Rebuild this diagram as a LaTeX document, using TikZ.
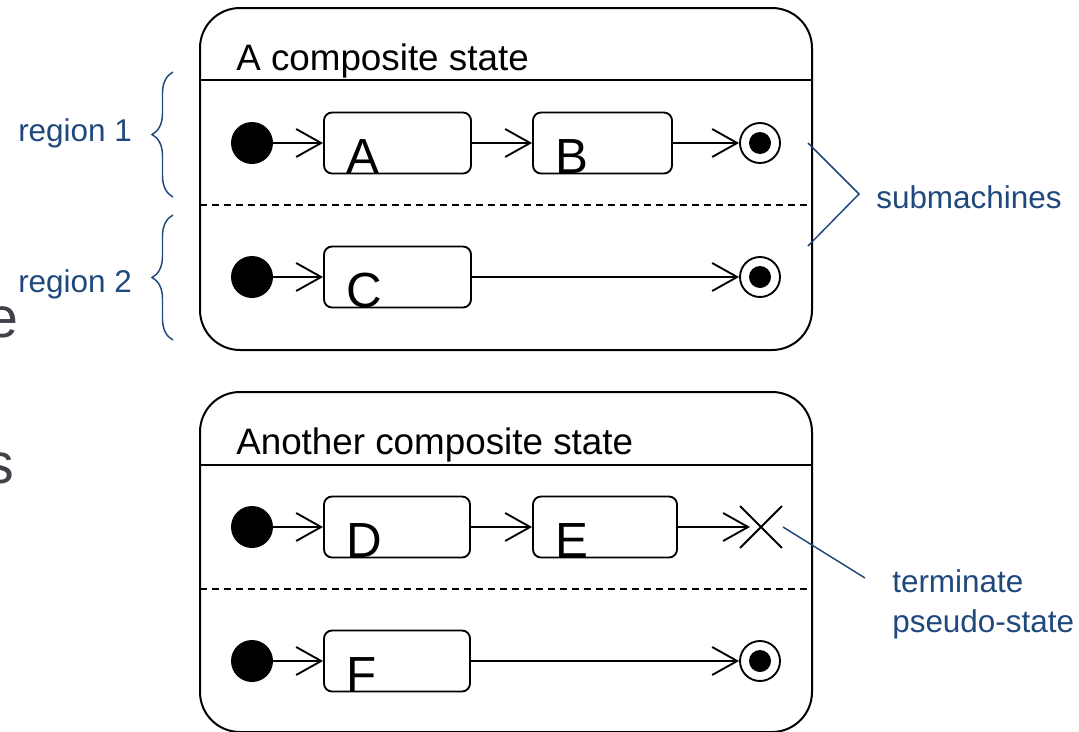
\documentclass[tikz,border=0pt]{standalone}
\usepackage{fontspec}
\setmainfont{Liberation Sans}
\usetikzlibrary{arrows.meta,shapes.misc,decorations.pathreplacing}
\definecolor{note}{RGB}{31,73,125}
\definecolor{slidegray}{RGB}{64,64,72}
\begin{document}
\begin{tikzpicture}[x=0.75pt,y=-0.75pt,
  comp/.style={draw,line width=1.5pt,rounded corners=30pt,inner sep=0,minimum width=459pt},
  st/.style={draw,line width=1.4pt,rounded corners=6pt,inner sep=0,minimum height=45.75pt},
  init/.style={circle,fill,inner sep=0,minimum size=31.5pt},
  fin/.style={circle,draw,line width=1.4pt,inner sep=0,minimum size=30pt},
  tr/.style={-{Straight Barb[length=18.75pt,width=21pt]},line width=1.4pt},
  sep/.style={line width=1.4pt,dash pattern=on 5.25pt off 3.75pt},
  title/.style={font=\fontsize{27.6}{27.6}\selectfont,anchor=base west,inner sep=0},
  letter/.style={font=\fontsize{37}{37}\selectfont,anchor=base west,inner sep=0},
  lbl/.style={font=\fontsize{23.6}{23.6}\selectfont,text=note,anchor=base west,inner sep=0},
  bluel/.style={draw=note,line width=1.1pt},
  brc/.style={draw=note,line width=1.1pt,decorate,decoration={brace,amplitude=15.75pt}},
  slide/.style={font=\fontsize{43}{43}\selectfont,text=slidegray,anchor=base east,inner sep=0}
]
\useasboundingbox (0,0) rectangle (1079,732);

% slide remnants (cut at the left edge, as in the reference)
\node[slide] (se) at (19,337) {e};
\node[slide] (ss) at (14,483) {s};

% ---------- top composite ----------
\node[comp,minimum height=256.5pt] (cs1) at (506,179) {};
\node[title] (t1) at (236,70) {A composite state};
\coordinate (h1l) at (200,80);
\coordinate (h1r) at (812,80);
\draw[line width=1.5pt] (h1l) -- (h1r);
\coordinate (d1l) at (200,205);
\coordinate (d1r) at (812,205);
\draw[sep] (d1l) -- (d1r);

\node[init] (i1) at (252,143) {};
\node[st,minimum width=110.25pt] (A) at (397.5,143) {};
\node[st,minimum width=104.25pt] (B) at (602.5,143) {};
\node[fin] (f1) at (760,143) {};
\fill (f1.center) circle[radius=8.25pt];
\node[letter] (Al) at ([xshift=17pt,yshift=0.75pt]A.south west) {A};
\node[letter] (Bl) at ([xshift=17pt,yshift=0.75pt]B.south west) {B};
\draw[tr] (i1) -- (A);
\draw[tr] (A) -- (B);
\draw[tr] (B) -- (f1);

\node[init] (i2) at (252,277) {};
\node[st,minimum width=110.25pt] (C) at (397.5,277) {};
\node[fin] (f2) at (760,277) {};
\fill (f2.center) circle[radius=8.25pt];
\node[letter] (Cl) at ([xshift=17pt,yshift=0.75pt]C.south west) {C};
\draw[tr] (i2) -- (C);
\draw[tr] (C) -- (f2);

% ---------- bottom composite ----------
\node[comp,minimum height=255pt] (cs2) at (506,562) {};
\node[title] (t2) at (236,454) {Another composite state};
\coordinate (h2l) at (200,465);
\coordinate (h2r) at (812,465);
\draw[line width=1.5pt] (h2l) -- (h2r);
\coordinate (d2l) at (200,589);
\coordinate (d2r) at (812,589);
\draw[sep] (d2l) -- (d2r);

\node[init] (i3) at (252,527) {};
\node[st,minimum width=109.5pt] (D) at (397,527) {};
\node[st,minimum width=108pt] (E) at (605,527) {};
\node[cross out,draw,line width=1.4pt,minimum size=30pt,inner sep=0] (T) at (761,527) {};
\node[letter] (Dl) at ([xshift=17pt,yshift=0.75pt]D.south west) {D};
\node[letter] (El) at ([xshift=17pt,yshift=0.75pt]E.south west) {E};
\draw[tr] (i3) -- (D);
\draw[tr] (D) -- (E);
\draw[tr] (E) -- ([xshift=-8.25pt]T.center);

\node[init] (i4) at (252,661) {};
\node[st,minimum width=109.5pt] (F) at (397,661) {};
\node[fin] (f4) at (760,661) {};
\fill (f4.center) circle[radius=8.25pt];
\node[letter] (Fl) at ([xshift=17pt,yshift=0.75pt]F.south west) {F};
\draw[tr] (i4) -- (F);
\draw[tr] (F) -- (f4);

% ---------- annotations ----------
\node[lbl] (r1) at (18,141) {region 1};
\node[lbl] (r2) at (18,292) {region 2};
\coordinate (b1a) at (173,197);
\coordinate (b1b) at (173,72);
\coordinate (b2a) at (173,340);
\coordinate (b2b) at (173,215);
\draw[brc] (b1a) -- (b1b);
\draw[brc] (b2a) -- (b2b);

\coordinate (sm1) at (808,143);
\coordinate (sm2) at (859,194);
\coordinate (sm3) at (808,246);
\draw[bluel] (sm1) -- (sm2) -- (sm3);
\node[lbl] (sub) at (876,208) {submachines};

\coordinate (tm1) at (783,527);
\coordinate (tm2) at (865,578);
\draw[bluel] (tm1) -- (tm2);
\node[lbl] (term) at (892,592) {terminate};
\node[lbl] (pseudo) at (892,632) {pseudo-state};
\end{tikzpicture}
\end{document}
